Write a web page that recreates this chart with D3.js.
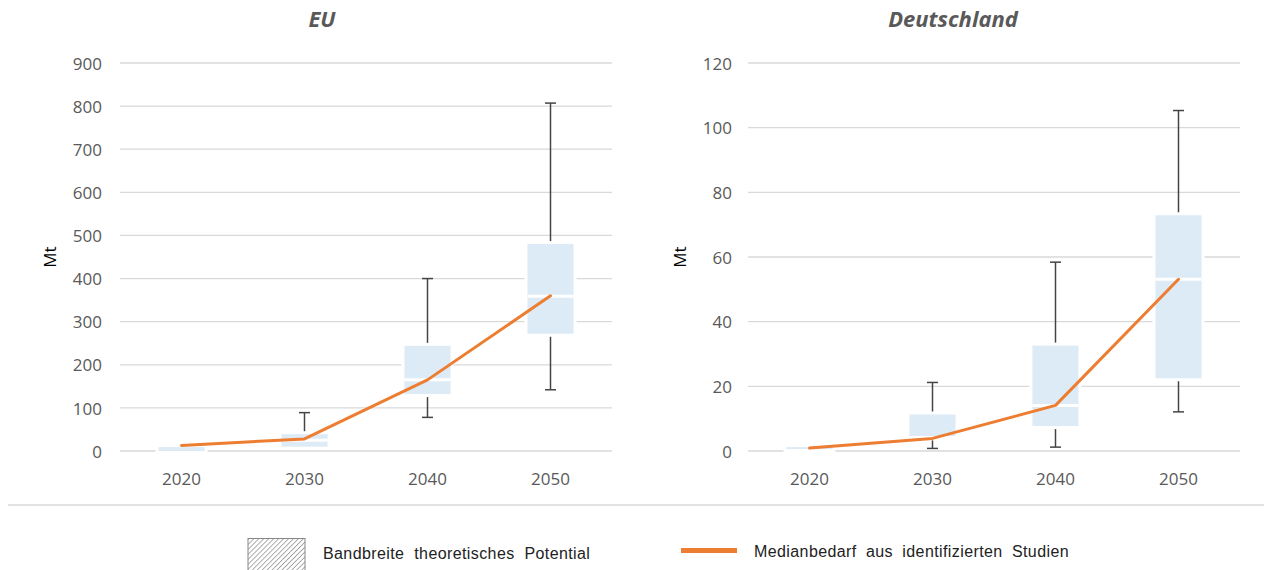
<!DOCTYPE html>
<html>
<head>
<meta charset="utf-8">
<script src="https://cdn.jsdelivr.net/npm/d3@7/dist/d3.min.js"></script>
<style>
  html, body { margin: 0; padding: 0; background: #fff; }
  svg { display: block; }
</style>
</head>
<body>
<svg id="chart" width="1264" height="570"></svg>
<script>
// Jahre (Kategorien)
const years = ["2020", "2030", "2040", "2050"];

// EU: Verteilung des Wasserstoffbedarfs (Mt)
const euMin    = [0,   8,   78,  142];
const euQ1     = [0,   10,  132, 272];
const euMedian = [8,   25,  165, 359];
const euQ3     = [9,   39,  244, 480];
const euMax    = [9,   89,  400, 807];
const euLine   = [13,  28,  165, 360];
const euTicks  = [0, 100, 200, 300, 400, 500, 600, 700, 800, 900];

// Deutschland: Verteilung des Wasserstoffbedarfs (Mt)
const deMin    = [0.5, 0.8,  1.2,  12.1];
const deQ1     = [0.6, 4.2,  7.7,  22.5];
const deMedian = [0.9, 4.2,  14.1, 53.1];
const deQ3     = [1.2, 11.3, 32.6, 72.9];
const deMax    = [1.6, 21.2, 58.4, 105.3];
const deLine   = [0.9, 3.9,  14.1, 53.1];
const deTicks  = [0, 20, 40, 60, 80, 100, 120];

const svg = d3.select("#chart");
const gray = "#595959";
const orange = "#ED7D31";
const boxFill = "#DDEBF7";
const tickFont = "'Open Sans', sans-serif";

function panel(opts) {
  const { title, titleX, x0, x1, yMax, ticks, labelX, tickRight, mins, q1, med, q3, maxs, line } = opts;
  const g = svg.append("g");
  const x = d3.scaleBand().domain(years).range([x0, x1]).paddingInner(0).paddingOuter(0);
  const y = d3.scaleLinear().domain([0, yMax]).range([451, 63]);

  // Titel
  g.append("text")
    .attr("x", titleX).attr("y", 27)
    .attr("text-anchor", "middle")
    .attr("font-family", tickFont)
    .attr("font-size", 22).attr("font-weight", 700).attr("font-style", "italic")
    .attr("fill", gray)
    .text(title);

  // Gitterlinien
  g.append("g").selectAll("line").data(ticks).join("line")
    .attr("x1", x0).attr("x2", x1)
    .attr("y1", d => y(d)).attr("y2", d => y(d))
    .attr("stroke", "#d9d9d9").attr("stroke-width", 1.3);

  // Y-Achse
  const yAxis = d3.axisLeft(y).tickValues(ticks).tickSize(0).tickPadding(0);
  const ya = g.append("g").attr("transform", `translate(${tickRight},0)`).call(yAxis);
  ya.select(".domain").remove();
  ya.selectAll("text")
    .attr("font-family", tickFont).attr("font-size", 17).attr("fill", gray)
    .attr("dy", "0.36em");

  // X-Achse
  const xAxis = d3.axisBottom(x).tickSize(0).tickPadding(0);
  const xa = g.append("g").attr("transform", "translate(0,470)").call(xAxis);
  xa.select(".domain").remove();
  xa.selectAll("text")
    .attr("font-family", tickFont).attr("font-size", 17).attr("fill", gray)
    .attr("dy", "0.9em");

  // Achsentitel
  g.append("text")
    .attr("transform", `translate(${labelX},257) rotate(-90)`)
    .attr("text-anchor", "middle")
    .attr("font-family", tickFont).attr("font-size", 17).attr("fill", "#000")
    .text("Mt");

  const bw = x.bandwidth() * 0.375;
  const capW = 11;
  const data = years.map((yr, i) => ({ yr, min: mins[i], q1: q1[i], med: med[i], q3: q3[i], max: maxs[i] }));
  const cx = d => x(d.yr) + x.bandwidth() / 2;

  // Whisker
  const wg = g.append("g").attr("stroke", "#444").attr("stroke-width", 1.5);
  data.forEach(d => {
    if (d.max > d.q3) {
      wg.append("line").attr("x1", cx(d)).attr("x2", cx(d)).attr("y1", y(d.max)).attr("y2", y(d.q3));
      wg.append("line").attr("x1", cx(d) - capW / 2).attr("x2", cx(d) + capW / 2).attr("y1", y(d.max)).attr("y2", y(d.max));
    }
    if (d.min < d.q1) {
      wg.append("line").attr("x1", cx(d)).attr("x2", cx(d)).attr("y1", y(d.q1)).attr("y2", y(d.min));
      wg.append("line").attr("x1", cx(d) - capW / 2).attr("x2", cx(d) + capW / 2).attr("y1", y(d.min)).attr("y2", y(d.min));
    }
  });

  // Boxen mit weißem Rand
  const halo = 3;
  g.append("g").selectAll("rect").data(data.filter(d => d.q3 > d.q1 + 1e-9)).join("rect")
    .attr("x", d => cx(d) - bw / 2 - halo)
    .attr("width", bw + 2 * halo)
    .attr("y", d => y(d.q3) - halo)
    .attr("height", d => Math.max(0, y(d.q1) - y(d.q3)) + 2 * halo)
    .attr("fill", "#fff");
  g.append("g").selectAll("rect").data(data).join("rect")
    .attr("x", d => cx(d) - bw / 2)
    .attr("width", bw)
    .attr("y", d => y(d.q3))
    .attr("height", d => Math.max(0, y(d.q1) - y(d.q3)))
    .attr("fill", boxFill);
  // Median als weiße Trennlinie
  g.append("g").selectAll("line").data(data.filter(d => y(d.q1) - y(d.q3) > 5)).join("line")
    .attr("x1", d => cx(d) - bw / 2).attr("x2", d => cx(d) + bw / 2)
    .attr("y1", d => y(d.med)).attr("y2", d => y(d.med))
    .attr("stroke", "#fff").attr("stroke-width", 3);

  // Medianbedarf
  const ln = d3.line().x((v, i) => x(years[i]) + x.bandwidth() / 2).y(v => y(v));
  g.append("path").datum(line)
    .attr("d", ln)
    .attr("fill", "none").attr("stroke", orange).attr("stroke-width", 3)
    .attr("stroke-linejoin", "round").attr("stroke-linecap", "round");
}

panel({ title: "EU", titleX: 322, x0: 120, x1: 612, yMax: 900, ticks: euTicks, labelX: 56, tickRight: 102,
        mins: euMin, q1: euQ1, med: euMedian, q3: euQ3, maxs: euMax, line: euLine });
panel({ title: "Deutschland", titleX: 953, x0: 748, x1: 1240, yMax: 120, ticks: deTicks, labelX: 686, tickRight: 732,
        mins: deMin, q1: deQ1, med: deMedian, q3: deQ3, maxs: deMax, line: deLine });

// Trennlinie über der Legende
svg.append("line").attr("x1", 8).attr("x2", 1264).attr("y1", 505).attr("y2", 505)
  .attr("stroke", "#d9d9d9").attr("stroke-width", 1.3);

// Legende
const defs = svg.append("defs");
const pat = defs.append("pattern").attr("id", "hatch")
  .attr("patternUnits", "userSpaceOnUse").attr("width", 3.5).attr("height", 3.5)
  .attr("patternTransform", "rotate(45)");
pat.append("rect").attr("width", 3.5).attr("height", 3.5).attr("fill", "#fff");
pat.append("line").attr("x1", 0).attr("x2", 0).attr("y1", 0).attr("y2", 3.5)
  .attr("stroke", "#777").attr("stroke-width", 1.2);

svg.append("rect").attr("x", 248).attr("y", 538.5).attr("width", 57).attr("height", 40)
  .attr("fill", "url(#hatch)").attr("stroke", "#888").attr("stroke-width", 1);
svg.append("text").attr("x", 323).attr("y", 559)
  .attr("font-family", "'Liberation Sans', Arial, sans-serif").attr("font-size", 16).attr("fill", "#222")
  .attr("letter-spacing", 0.4).attr("word-spacing", 5)
  .text("Bandbreite theoretisches Potential");

svg.append("line").attr("x1", 681).attr("x2", 737).attr("y1", 550.5).attr("y2", 550.5)
  .attr("stroke", orange).attr("stroke-width", 5);
svg.append("text").attr("x", 754).attr("y", 557)
  .attr("font-family", "'Liberation Sans', Arial, sans-serif").attr("font-size", 16).attr("fill", "#222")
  .attr("letter-spacing", 0.4).attr("word-spacing", 4.5)
  .text("Medianbedarf aus identifizierten Studien");
</script>
</body>
</html>
